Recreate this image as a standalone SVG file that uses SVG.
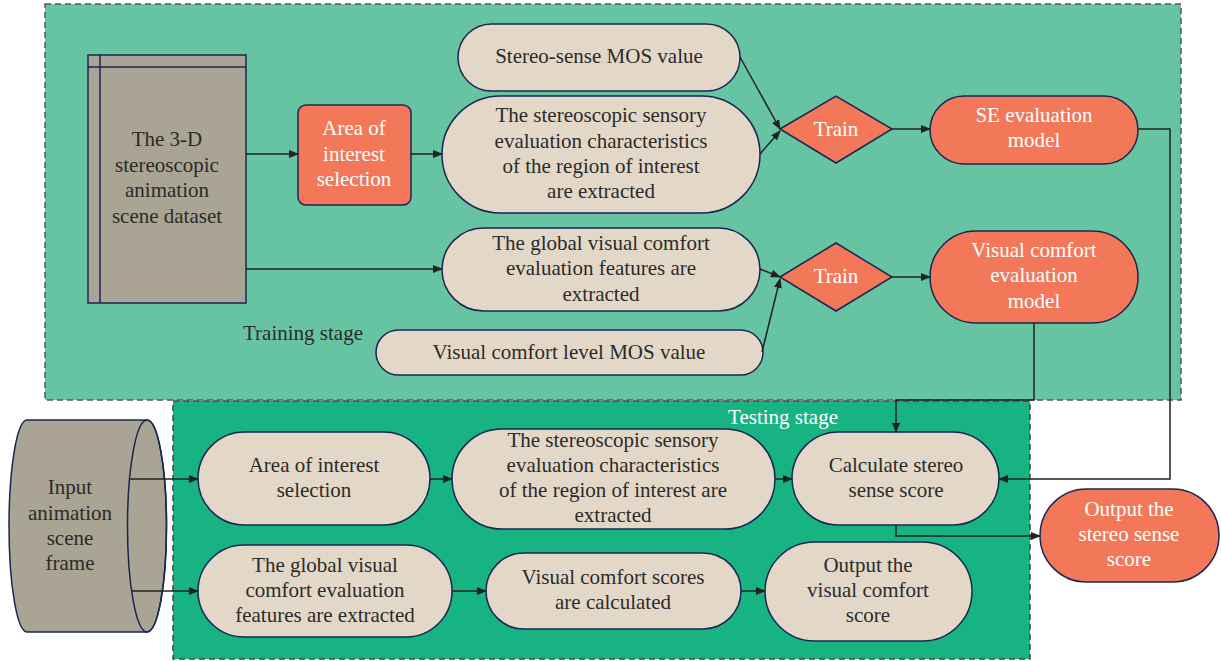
<svg xmlns="http://www.w3.org/2000/svg" width="1221" height="661" viewBox="0 0 1221 661">
<defs>
<marker id="ah" markerWidth="10" markerHeight="8" refX="9" refY="4" orient="auto" markerUnits="userSpaceOnUse">
<path d="M0,0 L10,4 L0,8 Z" fill="#222"/>
</marker>
<style>
.t{font-family:"Liberation Serif",serif;font-size:21px;fill:#2b2b2b;text-anchor:middle}
.w{font-family:"Liberation Serif",serif;font-size:21px;fill:#ffffff;text-anchor:middle}
.b{fill:#E3D8C8;stroke:#1B2552;stroke-width:1.5}
.o{fill:#F3785A;stroke:#1B2552;stroke-width:1.5}
.g{fill:#A9A493;stroke:#1B2552;stroke-width:1.5}
.c{fill:none;stroke:#222;stroke-width:1.5}
</style>
</defs>
<rect width="1221" height="661" fill="#fff"/>
<g id="training-stage">
<rect x="45" y="4" width="1136" height="396" fill="#67C4A3" stroke="#555" stroke-width="1.5" stroke-dasharray="6,4"/>
<text class="t" x="303" y="340">Training stage</text>
</g>
<g id="testing-stage">
<rect x="173" y="401" width="857" height="258" fill="#17B383" stroke="#444" stroke-width="1.5" stroke-dasharray="6,4"/>
<text class="w" x="783" y="424">Testing stage</text>
</g>
<g id="dataset">
<rect class="g" x="88" y="55" width="158" height="248"/>
<line x1="100" y1="55" x2="100" y2="303" stroke="#1B2552" stroke-width="1.5"/>
<line x1="88" y1="67" x2="246" y2="67" stroke="#1B2552" stroke-width="1.5"/>
<text class="t" x="167" y="146">The 3-D</text>
<text class="t" x="167" y="172">stereoscopic</text>
<text class="t" x="167" y="197">animation</text>
<text class="t" x="167" y="223">scene dataset</text>
</g>
<g id="aoi-train">
<rect class="o" x="298" y="105" width="113" height="100" rx="8"/>
<text class="w" x="354" y="135">Area of</text>
<text class="w" x="354" y="161">interest</text>
<text class="w" x="354" y="186">selection</text>
</g>
<g id="stereo-mos">
<rect class="b" x="458" y="24" width="282" height="67" rx="33.5"/>
<text class="t" x="599" y="63">Stereo-sense MOS value</text>
</g>
<g id="stereo-feat-train">
<rect class="b" x="442" y="96" width="318" height="117" rx="58.5"/>
<text class="t" x="601" y="122">The stereoscopic sensory</text>
<text class="t" x="601" y="148">evaluation characteristics</text>
<text class="t" x="601" y="173">of the region of interest</text>
<text class="t" x="601" y="198">are extracted</text>
</g>
<g id="global-feat-train">
<rect class="b" x="442" y="228" width="318" height="83" rx="41.5"/>
<text class="t" x="601" y="250">The global visual comfort</text>
<text class="t" x="601" y="275">evaluation features are</text>
<text class="t" x="601" y="301">extracted</text>
</g>
<g id="vc-mos">
<rect class="b" x="376" y="330" width="387" height="45" rx="22.5"/>
<text class="t" x="569" y="359">Visual comfort level MOS value</text>
</g>
<g id="train1">
<polygon class="o" points="780,129 836,96 892,129 836,163"/>
<text class="w" x="836" y="136">Train</text>
</g>
<g id="train2">
<polygon class="o" points="780,277 836,243 892,277 836,311"/>
<text class="w" x="836" y="283">Train</text>
</g>
<g id="se-model">
<rect class="o" x="930" y="96" width="208" height="68" rx="34"/>
<text class="w" x="1034" y="122">SE evaluation</text>
<text class="w" x="1034" y="147">model</text>
</g>
<g id="vc-model">
<rect class="o" x="930" y="231" width="208" height="92" rx="46"/>
<text class="w" x="1034" y="257">Visual comfort</text>
<text class="w" x="1034" y="282">evaluation</text>
<text class="w" x="1034" y="308">model</text>
</g>
<g id="input-frame">
<path class="g" d="M27,420 L147,420 A19.5,106 0 0 1 147,632 L27,632 A18,106 0 0 1 27,420 Z"/>
<ellipse cx="147" cy="526" rx="19.5" ry="106" fill="none" stroke="#1B2552" stroke-width="1.5"/>
<text class="t" x="70" y="494">Input</text>
<text class="t" x="70" y="520">animation</text>
<text class="t" x="70" y="545">scene</text>
<text class="t" x="70" y="570">frame</text>
</g>
<g id="aoi-test">
<rect class="b" x="198" y="432" width="232" height="93" rx="46.5"/>
<text class="t" x="314" y="472">Area of interest</text>
<text class="t" x="314" y="497">selection</text>
</g>
<g id="stereo-feat-test">
<rect class="b" x="452" y="429" width="323" height="100" rx="50"/>
<text class="t" x="613" y="447">The stereoscopic sensory</text>
<text class="t" x="613" y="472">evaluation characteristics</text>
<text class="t" x="613" y="497">of the region of interest are</text>
<text class="t" x="613" y="522">extracted</text>
</g>
<g id="calc-stereo">
<rect class="b" x="792" y="432" width="207" height="93" rx="46.5"/>
<text class="t" x="896" y="472">Calculate stereo</text>
<text class="t" x="896" y="497">sense score</text>
</g>
<g id="out-stereo">
<rect class="o" x="1040" y="489" width="179" height="93" rx="46.5"/>
<text class="w" x="1129" y="516">Output the</text>
<text class="w" x="1129" y="541">stereo sense</text>
<text class="w" x="1129" y="566">score</text>
</g>
<g id="global-feat-test">
<rect class="b" x="198" y="545" width="254" height="92" rx="46"/>
<text class="t" x="325" y="572">The global visual</text>
<text class="t" x="325" y="597">comfort evaluation</text>
<text class="t" x="325" y="622">features are extracted</text>
</g>
<g id="vc-scores">
<rect class="b" x="486" y="553" width="255" height="76" rx="38"/>
<text class="t" x="613" y="584">Visual comfort scores</text>
<text class="t" x="613" y="609">are calculated</text>
</g>
<g id="out-vc">
<rect class="b" x="765" y="542" width="207" height="99" rx="49.5"/>
<text class="t" x="868" y="572">Output the</text>
<text class="t" x="868" y="597">visual comfort</text>
<text class="t" x="868" y="622">score</text>
</g>
<g id="connectors">
<line class="c" x1="246" y1="154" x2="298" y2="154" marker-end="url(#ah)"/>
<line class="c" x1="411" y1="154" x2="442" y2="154" marker-end="url(#ah)"/>
<line class="c" x1="246" y1="269" x2="442" y2="269" marker-end="url(#ah)"/>
<line class="c" x1="740" y1="57" x2="780" y2="129" marker-end="url(#ah)"/>
<line class="c" x1="760" y1="154" x2="780" y2="131" marker-end="url(#ah)"/>
<line class="c" x1="760" y1="269" x2="780" y2="277" marker-end="url(#ah)"/>
<line class="c" x1="762" y1="352" x2="780" y2="279" marker-end="url(#ah)"/>
<line class="c" x1="892" y1="129" x2="930" y2="129" marker-end="url(#ah)"/>
<line class="c" x1="892" y1="277" x2="930" y2="277" marker-end="url(#ah)"/>
<polyline class="c" points="1138,129 1170,129 1170,479 999,479" marker-end="url(#ah)"/>
<polyline class="c" points="1034,323 1034,400 896,400 896,432" marker-end="url(#ah)"/>
<line class="c" x1="130" y1="479" x2="198" y2="479" marker-end="url(#ah)"/>
<line class="c" x1="132" y1="591" x2="198" y2="591" marker-end="url(#ah)"/>
<line class="c" x1="430" y1="479" x2="452" y2="479" marker-end="url(#ah)"/>
<line class="c" x1="775" y1="479" x2="792" y2="479" marker-end="url(#ah)"/>
<polyline class="c" points="896,525 896,536 1040,536" marker-end="url(#ah)"/>
<line class="c" x1="452" y1="591" x2="486" y2="591" marker-end="url(#ah)"/>
<line class="c" x1="741" y1="591" x2="765" y2="591" marker-end="url(#ah)"/>
</g>
</svg>
